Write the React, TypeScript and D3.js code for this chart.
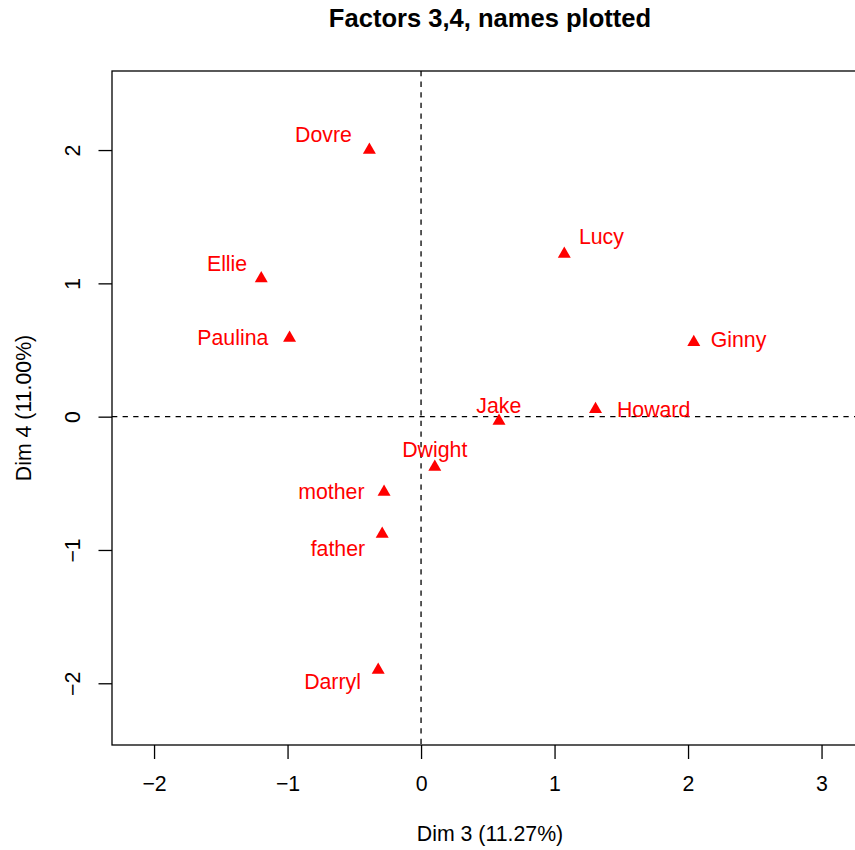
import React, { useEffect, useRef } from "react";
import * as d3 from "d3";

// Row coordinates on dimensions 3 and 4
const names = ["Dovre", "Ellie", "Paulina", "Lucy", "Ginny", "Howard", "Jake", "Dwight", "mother", "father", "Darryl"];
const dim3 = [-0.387, -1.197, -0.985, 1.073, 2.043, 1.307, 0.584, 0.103, -0.277, -0.291, -0.321];
const dim4 = [2.0, 1.036, 0.59, 1.22, 0.558, 0.055, -0.033, -0.377, -0.566, -0.88, -1.9];

// Label anchor points (text centres) in the same data units
const labelDim3 = [-0.731, -1.453, -1.41, 1.351, 2.378, 1.742, 0.582, 0.103, -0.672, -0.623, -0.663];
const labelDim4 = [2.12, 1.153, 0.595, 1.35, 0.578, 0.058, 0.088, -0.242, -0.56, -0.985, -1.988];

const xTicks = [-2, -1, 0, 1, 2, 3];
const yTicks = [-2, -1, 0, 1, 2];
const xDomain = [-2.315, 3.348];
const yDomain = [-2.463, 2.593];

const title = "Factors 3,4, names plotted";
const xLabel = "Dim 3 (11.27%)";
const yLabel = "Dim 4 (11.00%)";

const W = 855;
const H = 850;
const FONT = "'Liberation Sans', Arial, Helvetica, sans-serif";
const FS = 21.3;

export default function App() {
  const ref = useRef<SVGSVGElement | null>(null);

  useEffect(() => {
    const svg = d3.select(ref.current);
    svg.selectAll("*").remove();

    const left = 112, right = 868, top = 71, bottom = 745;
    const x = d3.scaleLinear().domain(xDomain).range([left, right]);
    const y = d3.scaleLinear().domain(yDomain).range([bottom, top]);
    const cx = (left + right) / 2;
    const cy = (top + bottom) / 2;

    svg.append("rect").attr("width", W).attr("height", H).attr("fill", "#ffffff");

    // reference lines through the origin
    svg.append("line")
      .attr("x1", x(0)).attr("x2", x(0)).attr("y1", top).attr("y2", bottom)
      .attr("stroke", "#000").attr("stroke-width", 1.3).attr("stroke-dasharray", "5.3,5.3");
    svg.append("line")
      .attr("x1", left).attr("x2", right).attr("y1", y(0)).attr("y2", y(0))
      .attr("stroke", "#000").attr("stroke-width", 1.3).attr("stroke-dasharray", "5.3,5.3");

    // frame
    svg.append("rect")
      .attr("x", left).attr("y", top).attr("width", right - left).attr("height", bottom - top)
      .attr("fill", "none").attr("stroke", "#000").attr("stroke-width", 1.3);

    // bottom axis
    const gx = svg.append("g").attr("transform", `translate(0,${bottom})`)
      .call(d3.axisBottom(x).tickValues(xTicks).tickSize(14).tickSizeOuter(0).tickFormat(d3.format("d")));
    gx.select(".domain").remove();
    gx.selectAll(".tick line").attr("stroke", "#000").attr("stroke-width", 1.3);
    gx.selectAll(".tick text")
      .attr("y", 46).attr("dy", null)
      .attr("fill", "#000").style("font-family", FONT).style("font-size", `${FS}px`);

    // left axis
    const gy = svg.append("g").attr("transform", `translate(${left},0)`)
      .call(d3.axisLeft(y).tickValues(yTicks).tickSize(13.5).tickSizeOuter(0).tickFormat(d3.format("d")));
    gy.select(".domain").remove();
    gy.selectAll(".tick line").attr("stroke", "#000").attr("stroke-width", 1.3);
    gy.selectAll(".tick text")
      .attr("x", 0).attr("y", -32).attr("dy", null)
      .attr("transform", "rotate(-90)")
      .attr("text-anchor", "middle")
      .attr("fill", "#000").style("font-family", FONT).style("font-size", `${FS}px`);

    // titles
    svg.append("text")
      .attr("x", cx).attr("y", 27).attr("text-anchor", "middle")
      .style("font-family", FONT).style("font-size", `${FS * 1.2}px`).style("font-weight", "bold")
      .text(title);
    svg.append("text")
      .attr("x", cx).attr("y", 841).attr("text-anchor", "middle")
      .style("font-family", FONT).style("font-size", `${FS}px`)
      .text(xLabel);
    svg.append("text")
      .attr("transform", `translate(31,${cy}) rotate(-90)`).attr("text-anchor", "middle")
      .style("font-family", FONT).style("font-size", `${FS}px`)
      .text(yLabel);

    // points
    const tri = d3.symbol().type(d3.symbolTriangle).size(73);
    svg.append("g").selectAll("path")
      .data(names.map((n, i) => ({ n, px: dim3[i], py: dim4[i] })))
      .join("path")
      .attr("d", tri)
      .attr("transform", (d) => `translate(${x(d.px)},${y(d.py)})`)
      .attr("fill", "#ff0000");

    // labels
    svg.append("g").selectAll("text")
      .data(names.map((n, i) => ({ n, lx: labelDim3[i], ly: labelDim4[i] })))
      .join("text")
      .attr("x", (d) => x(d.lx))
      .attr("y", (d) => y(d.ly))
      .attr("dy", "0.36em")
      .attr("text-anchor", "middle")
      .attr("fill", "#ff0000")
      .style("font-family", FONT).style("font-size", `${FS}px`)
      .text((d) => d.n);
  }, []);

  return (
    <svg
      ref={ref}
      width={W}
      height={H}
      style={{ position: "absolute", left: 0, top: 0, display: "block" }}
    />
  );
}
